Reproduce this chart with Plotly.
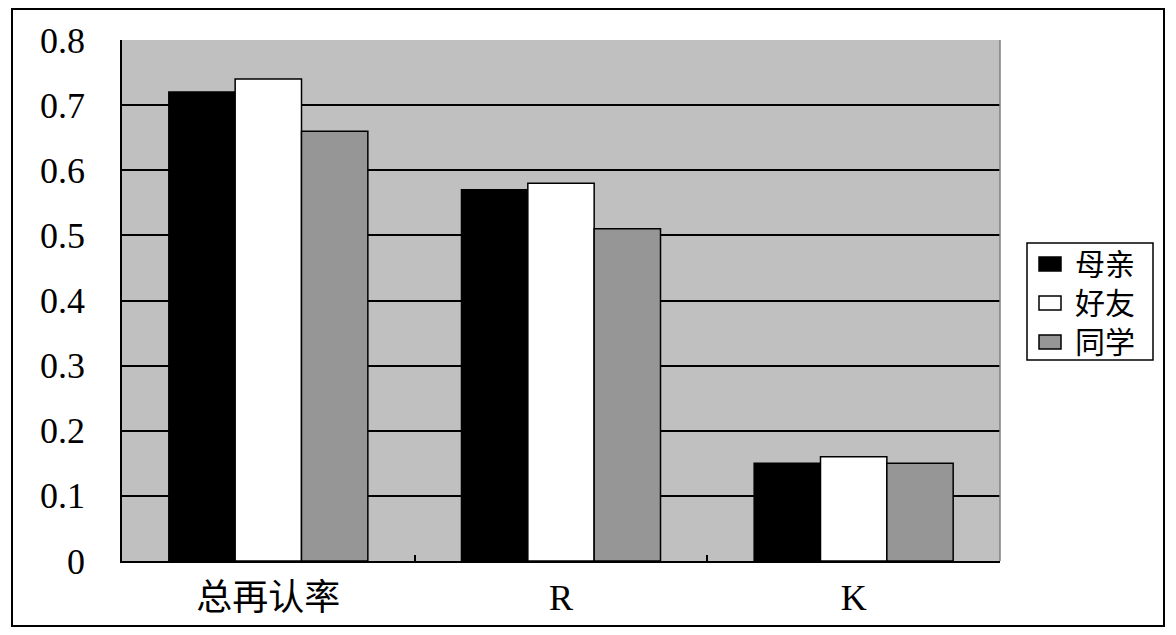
import plotly.graph_objects as go

categories = ["总再认率", "R", "K"]
series_names = ["母亲", "好友", "同学"]
mother = [0.72, 0.57, 0.15]
friend = [0.74, 0.58, 0.16]
classmate = [0.66, 0.51, 0.15]
y_ticks = [0, 0.1, 0.2, 0.3, 0.4, 0.5, 0.6, 0.7, 0.8]
y_tick_labels = ["0", "0.1", "0.2", "0.3", "0.4", "0.5", "0.6", "0.7", "0.8"]

colors = ["#000000", "#ffffff", "#969696"]
FONT = "Liberation Serif, Times New Roman, Noto Sans CJK SC, serif"

# page pixel geometry (page has 8px body margin)
PX0, PX1, PY0, PY1 = 122, 1000, 40, 561   # plot area in page pixels
W, H = 1160, 621
L = PX0 - 8
T = PY0 - 8
R = W - L - (PX1 - PX0)
B = H - T - (PY1 - PY0)


def px(x):
    return (x - PX0) / (PX1 - PX0)


def py(y):
    return (PY1 - y) / (PY1 - PY0)


fig = go.Figure()
for name, vals, col in zip(series_names, [mother, friend, classmate], colors):
    fig.add_trace(go.Bar(
        x=categories, y=vals, name=name, showlegend=False,
        marker=dict(color=col, line=dict(color="#000000", width=1.5)),
    ))

shapes = [
    dict(type="line", xref="paper", yref="paper", x0=1, x1=1, y0=0, y1=1,
         line=dict(color="#808080", width=1.5)),
    dict(type="rect", xref="paper", yref="paper",
         x0=px(12), x1=px(1164), y0=py(626), y1=py(9),
         line=dict(color="#000000", width=2), layer="below"),
    # legend box
    dict(type="rect", xref="paper", yref="paper",
         x0=px(1027), x1=px(1153), y0=py(360), y1=py(243),
         line=dict(color="#000000", width=1.5), fillcolor="#ffffff"),
]
annotations = []
row_y = [264, 303, 342]
for name, col, yc in zip(series_names, colors, row_y):
    shapes.append(dict(type="rect", xref="paper", yref="paper",
                       x0=px(1039), x1=px(1061), y0=py(yc + 7), y1=py(yc - 7),
                       line=dict(color="#000000", width=1.5), fillcolor=col))
    annotations.append(dict(xref="paper", yref="paper", x=px(1073), y=py(yc),
                            xanchor="left", yanchor="middle", showarrow=False,
                            text=name,
                            font=dict(family="Liberation Serif, Noto Sans CJK SC",
                                      size=30, color="#000000")))

fig.update_layout(
    width=W, height=H,
    margin=dict(l=L, r=R, t=T, b=B),
    paper_bgcolor="#ffffff",
    plot_bgcolor="#c0c0c0",
    barmode="group",
    bargap=0.32,
    bargroupgap=0,
    showlegend=False,
    font=dict(family=FONT, size=36, color="#000000"),
    xaxis=dict(
        showline=True, linecolor="#000000", linewidth=1.5,
        ticks="inside", ticklen=6, tickcolor="#000000", tickwidth=1.5,
        tickson="boundaries", showgrid=False,
        ticklabelstandoff=4,
        tickfont=dict(family="Liberation Serif, Noto Sans CJK SC", size=36),
    ),
    yaxis=dict(
        range=[0, 0.8], tickvals=y_ticks, ticktext=y_tick_labels,
        showline=True, linecolor="#000000", linewidth=1.5,
        ticks="inside", ticklen=6, tickcolor="#000000", tickwidth=1.5,
        showgrid=True, gridcolor="#000000", gridwidth=1.5,
        zeroline=False, ticklabelstandoff=28,
    ),
    shapes=shapes,
    annotations=annotations,
)

fig.write_html("out.html")
